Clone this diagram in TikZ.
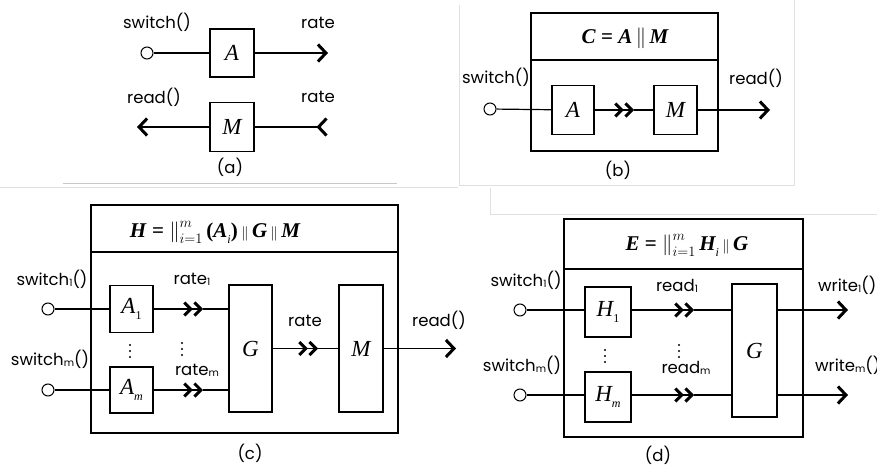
\documentclass[tikz,border=0pt]{standalone}
\usepackage{fontspec}
\setmainfont{Poppins}
\newfontfamily\tms{Liberation Serif}
\usetikzlibrary{arrows.meta,calc}
\newcommand\boxlet[1]{{\tms\itshape\fontsize{23}{23}\selectfont #1}}
\newcommand\ttl[1]{{\tms\bfseries\itshape #1}}
\newcommand\sbs[1]{\raisebox{-1pt}{\fontsize{10}{10}\selectfont #1}}
\newcommand\lsub[1]{\raisebox{-6pt}{\tms\itshape\fontsize{12}{12}\selectfont #1}}
\newcommand\nsub[1]{\raisebox{-6pt}{\tms\fontsize{12}{12}\selectfont #1}}
\newcommand\parbar{\,{\fontsize{14}{14}\selectfont$\|$}\,}
\newcommand\bigpar{$\Big\|^{m}_{i=1}$\,}
\begin{document}
\begin{tikzpicture}[x=1pt,y=-1pt,
  lbl/.style={font=\fontsize{16.5}{18}\selectfont, inner sep=0pt},
  captxt/.style={font=\fontsize{16.5}{18}\selectfont, inner sep=0pt},
  box/.style={draw, line width=1.2pt, inner sep=0pt},
  framebox/.style={draw, line width=1.3pt, inner sep=0pt},
  port/.style={circle, draw, line width=1pt, minimum size=12pt, inner sep=0pt, fill=white},
  dotc/.style={circle, fill, inner sep=0pt, minimum size=2.2pt},
  wire/.style={line width=1.2pt},
  outarrow/.style={wire, -{Straight Barb[length=8pt,width=17pt,line width=3pt]}},
  inarrow/.style={wire, -{Straight Barb[reversed,length=8pt,width=17pt,line width=3pt]}},
  dbl/.style={wire, -{Straight Barb[length=6.5pt,width=13pt,line width=3pt]Straight Barb[length=6.5pt,width=13pt,line width=3pt]}},
  faint/.style={draw=black!12, line width=0.8pt},
  titletxt/.style={inner sep=0pt, font=\fontsize{21}{23}\selectfont\tms}]
\useasboundingbox (0,0) rectangle (877,468);
% faint panel separators
\draw[black!22, line width=0.8pt] (63,183) -- (397,183);
\draw[faint] (0,187) -- (458,187);
\draw[faint] (459,5) -- (459,185) -- (794,185) -- (794,0);
\draw[faint] (490,188) -- (490,214) -- (877,214);

% ---------------- (a)
\node[lbl] (aSw) at (157,22) {switch()};
\node[port] (aP) at (147,53) {};
\node[box, minimum width=44pt, minimum height=48pt] (aA) at (232,53) {\boxlet{A}};
\coordinate (aOut) at (328,53);
\draw[wire] (aP) -- (aA);
\draw[outarrow] (aA) -- (aOut);
\node[lbl] (aRate1) at (318,23) {rate};
\node[lbl] (aRead) at (154,97) {read()};
\node[lbl] (aRate2) at (318,97) {rate};
\node[box, minimum width=44pt, minimum height=49pt] (aM) at (232,127) {\boxlet{M}};
\coordinate (aLeft) at (137,127);
\coordinate (aIn) at (328,127);
\draw[outarrow] (aM) -- (aLeft);
\draw[inarrow] (aM) -- (aIn);
\node[captxt] (aCap) at (230,167) {(a)};

% ---------------- (b)
\node[framebox, minimum width=187pt, minimum height=138pt] (bF) at (624.5,82) {};
\draw[line width=1.3pt] (bF.west |- 0,60) -- (bF.east |- 0,60);
\node[titletxt] (bT) at (625,38) {\ttl{C} \textbf{=} \ttl{A}\,$\|$\,\ttl{M}};
\node[lbl] (bSw) at (496,77) {switch()};
\node[port] (bP) at (490,109) {};
\node[box, minimum width=42pt, minimum height=49pt] (bA) at (573,110) {\boxlet{A}};
\node[box, minimum width=43pt, minimum height=49pt] (bM) at (675.5,110) {\boxlet{M}};
\coordinate (bCh) at (634,110);
\coordinate (bOut) at (770,110);
\draw[wire] (bP) -- (bA);
\draw[dbl] (bA) -- (bCh);
\draw[wire] (bCh) -- (bM);
\draw[outarrow] (bM) -- (bOut);
\node[lbl] (bRead) at (756,78) {read()};
\node[captxt] (bCap) at (618,170) {(b)};

% ---------------- (c)
\node[framebox, minimum width=307pt, minimum height=228pt] (cF) at (244.5,319) {};
\draw[line width=1.3pt] (cF.west |- 0,252) -- (cF.east |- 0,252);
\node[titletxt] (cT) at (215,232) {\ttl{H} \textbf{=} \bigpar\textbf{(}\ttl{A}\lsub{i}\textbf{)}\parbar\ttl{G}\parbar\ttl{M}};
\node[lbl] (cSw1) at (52,279) {switch\sbs{1}()};
\node[port] (cP1) at (48,309) {};
\node[box, minimum width=43pt, minimum height=47pt] (cA1) at (131.5,309) {\boxlet{A}\nsub{1}};
\node[box, minimum width=43pt, minimum height=127pt] (cG) at (250.5,348.5) {\boxlet{G}};
\coordinate (cCh1) at (203,309);
\draw[wire] (cP1) -- (cA1);
\draw[dbl] (cA1) -- (cCh1);
\draw[wire] (cCh1) -- (cG.west |- cCh1);
\node[lbl] (cR1) at (192,279) {rate\sbs{1}};
\foreach \i/\yy in {1/345,2/351,3/357} {\node[dotc] (cVa\i) at (130,\yy) {}; \node[dotc] (cVb\i) at (182,\yy-2) {};}
\node[lbl] (cSwm) at (50,359) {switch\sbs{m}()};
\node[port] (cPm) at (48,390) {};
\node[box, minimum width=43pt, minimum height=46pt] (cAm) at (131.5,390) {\boxlet{A}\lsub{m}};
\coordinate (cChm) at (203,390);
\draw[wire] (cPm) -- (cAm);
\draw[dbl] (cAm) -- (cChm);
\draw[wire] (cChm) -- (cG.west |- cChm);
\node[lbl] (cRm) at (197,370) {rate\sbs{m}};
\node[box, minimum width=44pt, minimum height=127pt] (cM) at (361,348.5) {\boxlet{M}};
\coordinate (cCh) at (318,348.5);
\coordinate (cOut) at (456,348.5);
\draw[dbl] (cG) -- (cCh);
\draw[wire] (cCh) -- (cM);
\draw[outarrow] (cM) -- (cOut);
\node[lbl] (cRate) at (305,321) {rate};
\node[lbl] (cRead) at (439,320) {read()};
\node[captxt] (cCap) at (250,453) {(c)};

% ---------------- (d)
\node[framebox, minimum width=239pt, minimum height=218pt] (dF) at (683.5,328) {};
\draw[line width=1.3pt] (dF.west |- 0,269) -- (dF.east |- 0,269);
\node[titletxt] (dT) at (687,245) {\ttl{E} \textbf{=} \bigpar\ttl{H}\lsub{i}\parbar\ttl{G}};
\node[lbl] (dSw1) at (526,280) {switch\sbs{1}()};
\node[port] (dP1) at (520,310) {};
\node[box, minimum width=46pt, minimum height=50pt] (dH1) at (608,312) {\boxlet{H}\nsub{1}};
\node[box, minimum width=45pt, minimum height=133pt] (dG) at (754.5,350.5) {\boxlet{G}};
\coordinate (dCh1) at (694,310);
\coordinate (dO1) at (848,310);
\draw[wire] (dP1) -- (dP1 -| dH1.west);
\draw[dbl] (dP1 -| dH1.east) -- (dCh1);
\draw[wire] (dCh1) -- (dG.west |- dCh1);
\draw[outarrow] (dG.east |- dO1) -- (dO1);
\node[lbl] (dR1) at (677,286) {read\sbs{1}};
\node[lbl, anchor=west] (dW1) at (818,285) {write\sbs{1}()};
\foreach \i/\yy in {1/350,2/356,3/362} {\node[dotc] (dVa\i) at (605,\yy) {}; \node[dotc] (dVb\i) at (679,\yy-5) {};}
\node[lbl] (dSwm) at (522,365) {switch\sbs{m}()};
\node[port] (dPm) at (520,395) {};
\node[box, minimum width=46pt, minimum height=50pt] (dHm) at (608,397) {\boxlet{H}\lsub{m}};
\coordinate (dChm) at (694,395);
\coordinate (dOm) at (848,395);
\draw[wire] (dPm) -- (dPm -| dHm.west);
\draw[dbl] (dPm -| dHm.east) -- (dChm);
\draw[wire] (dChm) -- (dG.west |- dChm);
\draw[outarrow] (dG.east |- dOm) -- (dOm);
\node[lbl] (dRm) at (686,368) {read\sbs{m}};
\node[lbl, anchor=west] (dWm) at (815,365) {write\sbs{m}()};
\node[captxt] (dCap) at (658,455) {(d)};
\end{tikzpicture}
\end{document}
